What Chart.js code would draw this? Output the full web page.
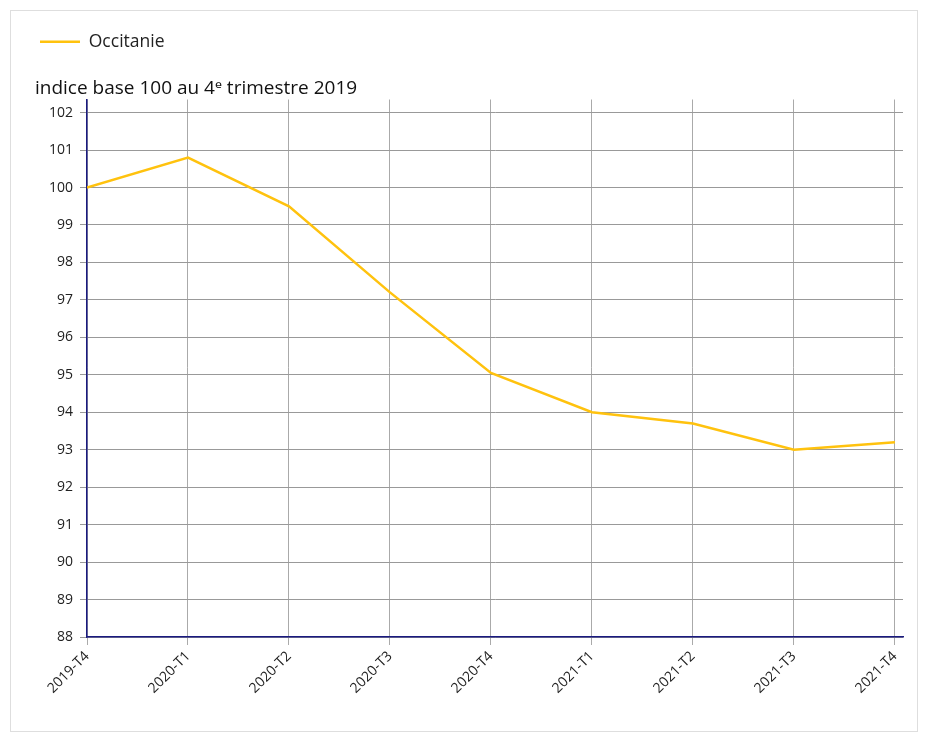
<!DOCTYPE html>
<html>
<head>
<meta charset="utf-8">
<script src="https://cdn.jsdelivr.net/npm/chart.js@4/dist/chart.umd.min.js"></script>
<style>
    html, body { margin: 0; padding: 0; background: #fff; }
    #frame { position: absolute; left: 10px; top: 10px; width: 906px; height: 720px; border: 1px solid #dedede; }
    #wrap { position: absolute; left: 0; top: 0; width: 929px; height: 742px; }
</style>
</head>
<body>
<div id="frame"></div>
<div id="wrap"><canvas id="chart1"></canvas></div>
<script>
const chart1div = document.getElementById("chart1")

const quarters = ["2019-T4", "2020-T1", "2020-T2", "2020-T3", "2020-T4", "2021-T1", "2021-T2", "2021-T3", "2021-T4"]
const occitanie = [100, 100.8, 99.5, 97.2, 95.05, 94, 93.7, 93, 93.2]
const yTicks = [88, 89, 90, 91, 92, 93, 94, 95, 96, 97, 98, 99, 100, 101, 102]
const seriesName = "Occitanie"
const unitLabel = "indice base 100 au 4ᵉ trimestre 2019"

Chart.defaults.font.family = "'Open Sans', 'Noto Sans', sans-serif"
Chart.defaults.color = "#222"

new Chart(chart1div, {
    type: "line",
    data: {
        datasets: [{
            label: seriesName,
            data: occitanie.map((v, i) => ({ x: i, y: v })),
            borderColor: "#FFC20E",
            backgroundColor: "#FFC20E",
            borderWidth: 2.5,
            pointRadius: 0,
            tension: 0,
            fill: false
        }]
    },
    options: {
        responsive: true,
        maintainAspectRatio: false,
        animation: false,
        layout: { padding: { left: 35, right: 26, top: 28, bottom: 10 } },
        plugins: {
            legend: {
                position: "top",
                align: "start",
                weight: 3000,
                labels: {
                    usePointStyle: true,
                    pointStyle: "line",
                    pointStyleWidth: 40,
                    padding: 5,
                    color: "#222",
                    font: { size: 17.5 }
                }
            },
            title: {
                display: true,
                text: unitLabel,
                align: "start",
                color: "#111",
                font: { size: 19, weight: "normal", lineHeight: 1 },
                padding: { top: 19, bottom: 1 }
            },
            tooltip: { enabled: false }
        },
        scales: {
            x: {
                type: "linear",
                min: 0,
                max: 8.08,
                afterBuildTicks: (scale) => {
                    scale.ticks = quarters.map((q, i) => ({ value: i }))
                },
                afterFit: (scale) => { scale.height = 95 },
                ticks: {
                    autoSkip: false,
                    maxRotation: 45,
                    minRotation: 45,
                    color: "#222",
                    font: { size: 14 },
                    callback: (v) => quarters[v]
                },
                grid: { color: "#aaa", tickLength: 8, lineWidth: 1 },
                border: { color: "#1a1a80", width: 1.5 }
            },
            y: {
                min: 88,
                max: 102.35,
                afterBuildTicks: (scale) => {
                    scale.ticks = yTicks.map(v => ({ value: v }))
                },
                afterFit: (scale) => { scale.width = 52 },
                ticks: {
                    color: "#222",
                    font: { size: 14 },
                    padding: 7
                },
                grid: { color: "#999", tickLength: 7, lineWidth: 1 },
                border: { color: "#1a1a80", width: 1.5 }
            }
        }
    }
});
</script>
</body>
</html>
